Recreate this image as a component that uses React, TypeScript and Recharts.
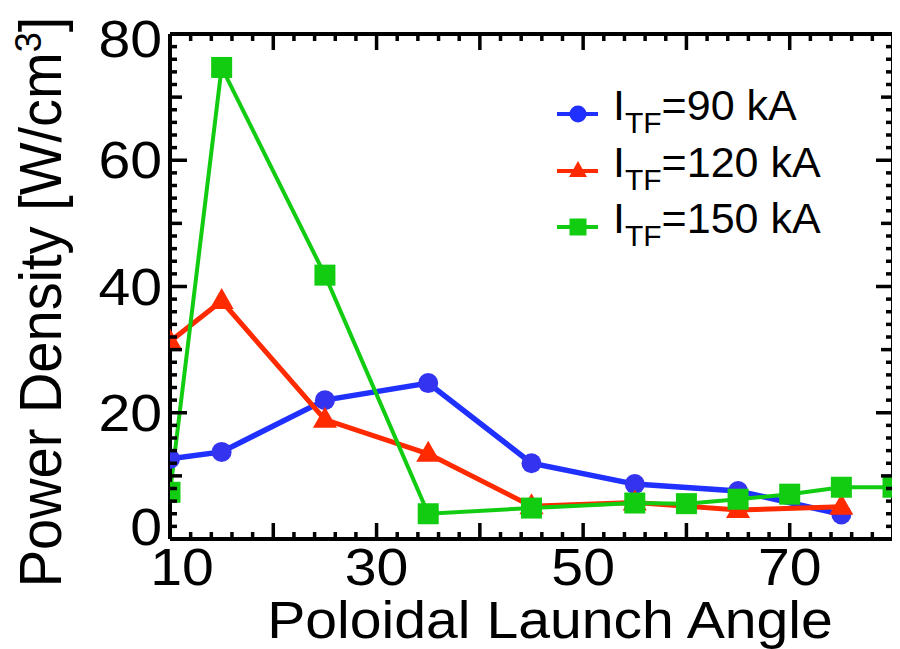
import { LineChart, Line, XAxis, YAxis, Customized } from 'recharts';

// Poloidal launch angle (deg) vs. power density for three TF coil currents
const angles90 = [10, 15, 25, 35, 45, 55, 65, 75];
const power90 = [12.7, 13.8, 22.0, 24.7, 12.0, 8.7, 7.6, 3.9];

const angles120 = [10, 15, 25, 35, 45, 55, 65, 75];
const power120 = [31.3, 37.7, 18.9, 13.5, 5.2, 5.8, 4.6, 5.1];

const angles150 = [10, 15, 25, 35, 45, 55, 60, 65, 70, 75, 80];
const power150 = [7.4, 74.7, 41.8, 4.0, 4.9, 5.7, 5.6, 6.3, 7.1, 8.2, 8.2];

const seriesNames = ['90 kA', '120 kA', '150 kA'];

const xTickLabels = [10, 30, 50, 70];
const yTickLabels = [0, 20, 40, 60, 80];

const BLUE = '#1f30ff';
const RED = '#ff2a00';
const GREEN = '#12cc12';
const FONT = '"Liberation Sans", Arial, Helvetica, sans-serif';

const toPoints = (xs: number[], ys: number[]) => xs.map((angle, i) => ({ angle, power: ys[i] }));
const data90 = toPoints(angles90, power90);
const data120 = toPoints(angles120, power120);
const data150 = toPoints(angles150, power150);

// minor ticks every 2 units on both axes
const xTicks: number[] = [];
for (let v = 10; v <= 80; v += 2) xTicks.push(v);
const yTicks: number[] = [];
for (let v = 0; v <= 80; v += 2) yTicks.push(v);

const xTickLen = (v: number) => (v % 10 === 0 ? 16 : 7);
const yTickLen = (v: number) => (v % 20 === 0 ? 17 : v % 10 === 0 ? 12 : 7);
const TICK_W = 3.5;

function BottomTick(p: any) {
  const v = p.payload.value;
  const shift = v === 10 ? 12 : 0;
  return (
    <g>
      <line x1={p.x} y1={p.y} x2={p.x} y2={p.y - xTickLen(v)} stroke="#000" strokeWidth={TICK_W} />
      {xTickLabels.includes(v) && (
        <text
          transform={`translate(${p.x + shift},${p.y + 46}) scale(1.1,1)`}
          textAnchor="middle"
          fontSize={52}
          fontFamily={FONT}
          fill="#000"
        >
          {v}
        </text>
      )}
    </g>
  );
}

function TopTick(p: any) {
  const v = p.payload.value;
  return <line x1={p.x} y1={p.y} x2={p.x} y2={p.y + xTickLen(v)} stroke="#000" strokeWidth={TICK_W} />;
}

function LeftTick(p: any) {
  const v = p.payload.value;
  const dy = v === 0 ? -12 : v === 80 ? 5 : 0;
  return (
    <g>
      <line x1={p.x} y1={p.y} x2={p.x + yTickLen(v)} y2={p.y} stroke="#000" strokeWidth={TICK_W} />
      {yTickLabels.includes(v) && (
        <text
          transform={`translate(${p.x - 8},${p.y + 18 + dy}) scale(1.1,1)`}
          textAnchor="end"
          fontSize={52}
          fontFamily={FONT}
          fill="#000"
        >
          {v}
        </text>
      )}
    </g>
  );
}

function RightTick(p: any) {
  const v = p.payload.value;
  return <line x1={p.x} y1={p.y} x2={p.x - yTickLen(v)} y2={p.y} stroke="#000" strokeWidth={TICK_W} />;
}

const circleDot = (p: any) => <circle key={p.index} cx={p.cx} cy={p.cy} r={10} fill="#3434f0" />;
const triangleDot = (p: any) => (
  <polygon
    key={p.index}
    points={`${p.cx},${p.cy - 13} ${p.cx - 12},${p.cy + 8} ${p.cx + 12},${p.cy + 8}`}
    fill={RED}
  />
);
const squareDot = (p: any) => <rect key={p.index} x={p.cx - 10.5} y={p.cy - 10.5} width={21} height={21} fill={GREEN} />;

function LegendBlock() {
  const rows = [
    { y: 106, color: BLUE, mark: 'circle' },
    { y: 163, color: RED, mark: 'triangle' },
    { y: 219, color: GREEN, mark: 'square' },
  ];
  return (
    <g fontFamily={FONT}>
      {rows.map((r, i) => (
        <g key={i}>
          <line x1={549} y1={r.y} x2={590} y2={r.y} stroke={r.color} strokeWidth={4} />
          {r.mark === 'circle' && <circle cx={570} cy={r.y} r={8.5} fill={r.color} />}
          {r.mark === 'triangle' && (
            <polygon points={`570,${r.y - 10} 561,${r.y + 6} 579,${r.y + 6}`} fill={r.color} />
          )}
          {r.mark === 'square' && <rect x={561.5} y={r.y - 8.5} width={17} height={17} fill={r.color} />}
          <text x={605} y={r.y + 6} fontSize={43} fill="#000">
            I
            <tspan dy={13} fontSize={30}>TF</tspan>
            <tspan dy={-13}>={seriesNames[i]}</tspan>
          </text>
        </g>
      ))}
    </g>
  );
}

function AxisTitles() {
  return (
    <g fontFamily={FONT} fill="#000">
      <text transform="translate(542,630) scale(1.11,1)" textAnchor="middle" fontSize={51.5}>
        Poloidal Launch Angle
      </text>
      <text transform="translate(53,294) scale(1.05,1) rotate(-90)" textAnchor="middle" fontSize={56}>
        Power Density [W/cm
        <tspan dy={-19} fontSize={36}>3</tspan>
        <tspan dy={19}>]</tspan>
      </text>
    </g>
  );
}

export default function App() {
  const frame = { stroke: '#000', strokeWidth: 4 };
  return (
    <LineChart width={892} height={641} margin={{ top: 25, right: 6, bottom: 109, left: 161 }}>
      <XAxis
        type="number"
        dataKey="angle"
        domain={[10, 80]}
        ticks={xTicks}
        interval={0}
        allowDataOverflow
        height={1}
        tickSize={0}
        tickMargin={0}
        tickLine={false}
        stroke="#000"
        strokeWidth={4}
        axisLine={frame}
        tick={BottomTick}
      />
      <XAxis
        xAxisId="top"
        orientation="top"
        type="number"
        dataKey="angle"
        domain={[10, 80]}
        ticks={xTicks}
        interval={0}
        allowDataOverflow
        height={1}
        tickSize={0}
        tickMargin={0}
        tickLine={false}
        stroke="#000"
        strokeWidth={4}
        axisLine={frame}
        tick={TopTick}
      />
      <YAxis
        type="number"
        domain={[0, 80]}
        ticks={yTicks}
        interval={0}
        allowDataOverflow
        width={1}
        tickSize={0}
        tickMargin={0}
        tickLine={false}
        stroke="#000"
        strokeWidth={4}
        axisLine={frame}
        tick={LeftTick}
      />
      <YAxis
        yAxisId="right"
        orientation="right"
        type="number"
        domain={[0, 80]}
        ticks={yTicks}
        interval={0}
        allowDataOverflow
        width={1}
        tickSize={0}
        tickMargin={0}
        tickLine={false}
        stroke="#000"
        strokeWidth={4}
        axisLine={frame}
        tick={RightTick}
      />
      <Line
        data={data90}
        dataKey="power"
        name={seriesNames[0]}
        stroke={BLUE}
        strokeWidth={5.5}
        dot={circleDot}
        activeDot={false}
        isAnimationActive={false}
      />
      <Line
        data={data120}
        dataKey="power"
        name={seriesNames[1]}
        stroke={RED}
        strokeWidth={5}
        dot={triangleDot}
        activeDot={false}
        isAnimationActive={false}
      />
      <Line
        data={data150}
        dataKey="power"
        name={seriesNames[2]}
        stroke={GREEN}
        strokeWidth={4}
        dot={squareDot}
        activeDot={false}
        isAnimationActive={false}
      />
      <Customized component={LegendBlock} />
      <Customized component={AxisTitles} />
    </LineChart>
  );
}
